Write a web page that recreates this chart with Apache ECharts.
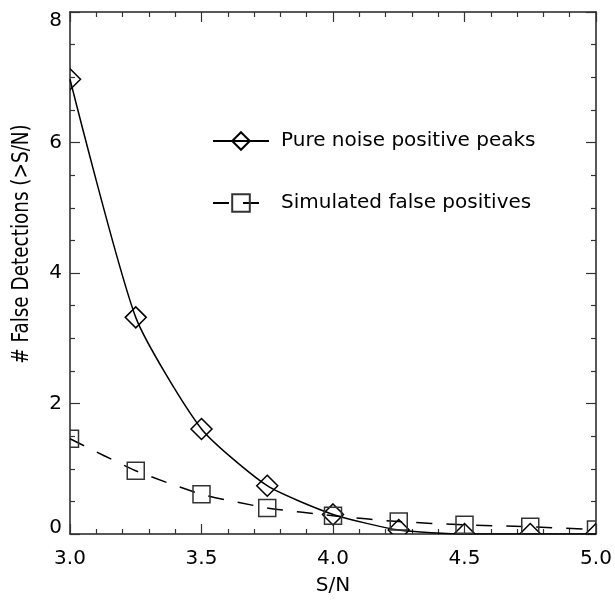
<!DOCTYPE html>
<html><head><meta charset="utf-8">
<script src="https://cdn.jsdelivr.net/npm/echarts@6/dist/echarts.min.js"></script>
<style>html,body{margin:0;padding:0;background:#fff}#c{width:615px;height:601px}</style>
</head><body><div id="c"></div>
<script>
const snr = [3.0, 3.25, 3.5, 3.75, 4.0, 4.25, 4.5, 4.75, 5.0];
const pureNoise = [6.97, 3.32, 1.61, 0.74, 0.30, 0.06, 0.0, 0.0, 0.0];
const simulated = [1.46, 0.97, 0.61, 0.40, 0.28, 0.19, 0.14, 0.11, 0.07];
const seriesNames = ['Pure noise positive peaks', 'Simulated false positives'];
const xName = 'S/N';
const yName = '# False Detections (>S/N)';

const FONT = 'DejaVu Sans';
const chart = echarts.init(document.getElementById('c'), null, {renderer: 'canvas'});
const axisCommon = {
  axisLine: {show: true, onZero: false, lineStyle: {color: '#222', width: 1.5}},
  axisTick: {show: true, inside: true, length: 10, lineStyle: {color: '#333', width: 1.2}},
  minorTick: {show: true, length: 5, lineStyle: {color: '#333', width: 1.2}},
  splitLine: {show: false},
  minorSplitLine: {show: false}
};

function markerSeries(name, values, shape, half, stroke) {
  return {
    name: name, type: 'custom', clip: true, z: 4,
    data: snr.map((x, i) => [x, values[i]]),
    renderItem: function (params, api) {
      const p = api.coord([api.value(0), api.value(1)]);
      const style = {fill: 'none', stroke: stroke, lineWidth: 1.5};
      if (shape === 'diamond') {
        return {type: 'polygon', shape: {points: [[p[0], p[1] - half], [p[0] + half, p[1]], [p[0], p[1] + half], [p[0] - half, p[1]]]}, style: style};
      }
      return {type: 'rect', shape: {x: p[0] - half, y: p[1] - half, width: 2 * half, height: 2 * half}, style: style};
    }
  };
}

chart.setOption({
  animation: false,
  backgroundColor: '#fff',
  grid: {left: 70, right: 19, top: 12, bottom: 63, containLabel: false},
  legend: {
    orient: 'vertical', left: 212, top: 131, itemGap: 42, padding: 0,
    itemWidth: 56, itemHeight: 22,
    textStyle: {fontFamily: FONT, fontSize: 20, color: '#000', padding: [0, 0, 0, 7]},
    data: seriesNames
  },
  graphic: [{
    type: 'text', x: 22, y: 244, rotation: Math.PI / 2, scaleX: 0.8, scaleY: 1,
    style: {text: yName, fontFamily: FONT, fontSize: 23, fill: '#000', align: 'center', verticalAlign: 'middle'}
  }],
  xAxis: [
    Object.assign({}, axisCommon, {
      type: 'value', min: 3.0, max: 5.0, interval: 0.5,
      minorTick: Object.assign({}, axisCommon.minorTick, {splitNumber: 5}),
      axisLabel: {fontFamily: FONT, fontSize: 20, color: '#000', margin: 15, formatter: v => v.toFixed(1)},
      name: xName, nameLocation: 'middle', nameGap: 42,
      nameTextStyle: {fontFamily: FONT, fontSize: 20, color: '#000'}
    }),
    Object.assign({}, axisCommon, {
      type: 'value', min: 3.0, max: 5.0, interval: 0.5, position: 'top',
      minorTick: Object.assign({}, axisCommon.minorTick, {splitNumber: 5}),
      axisLabel: {show: false}
    })
  ],
  yAxis: [
    Object.assign({}, axisCommon, {
      type: 'value', min: 0, max: 8, interval: 2,
      minorTick: Object.assign({}, axisCommon.minorTick, {splitNumber: 4}),
      axisLabel: {
        fontFamily: FONT, fontSize: 20, color: '#000', margin: 8,
        formatter: v => v === 8 ? '{t|8}' : (v === 0 ? '{b|0}' : String(v)),
        rich: {
          t: {fontFamily: FONT, fontSize: 20, color: '#000', padding: [18, 0, 0, 0]},
          b: {fontFamily: FONT, fontSize: 20, color: '#000', padding: [0, 0, 12, 0]}
        }
      }
    }),
    Object.assign({}, axisCommon, {
      type: 'value', min: 0, max: 8, interval: 2, position: 'right',
      minorTick: Object.assign({}, axisCommon.minorTick, {splitNumber: 4}),
      axisLabel: {show: false}
    })
  ],
  series: [
    {
      name: seriesNames[0], type: 'line', smooth: 0.2, clip: true,
      data: snr.map((x, i) => [x, pureNoise[i]]),
      symbol: 'diamond', symbolSize: 21, showSymbol: false,
      lineStyle: {color: '#000', width: 1.5, type: 'solid'},
      itemStyle: {color: 'rgba(0,0,0,0)', borderColor: '#000', borderWidth: 1.5},
      z: 3
    },
    {
      name: seriesNames[1], type: 'line', smooth: 0.2, clip: true,
      data: snr.map((x, i) => [x, simulated[i]]),
      symbol: 'rect', symbolSize: 17, showSymbol: false,
      lineStyle: {color: '#000', width: 1.5, type: [16, 14]},
      itemStyle: {color: 'rgba(0,0,0,0)', borderColor: '#333', borderWidth: 1.5},
      z: 2
    },
    markerSeries('pureMarkers', pureNoise, 'diamond', 10.5, '#000'),
    markerSeries('simMarkers', simulated, 'rect', 8.5, '#333')
  ]
});
</script></body></html>
